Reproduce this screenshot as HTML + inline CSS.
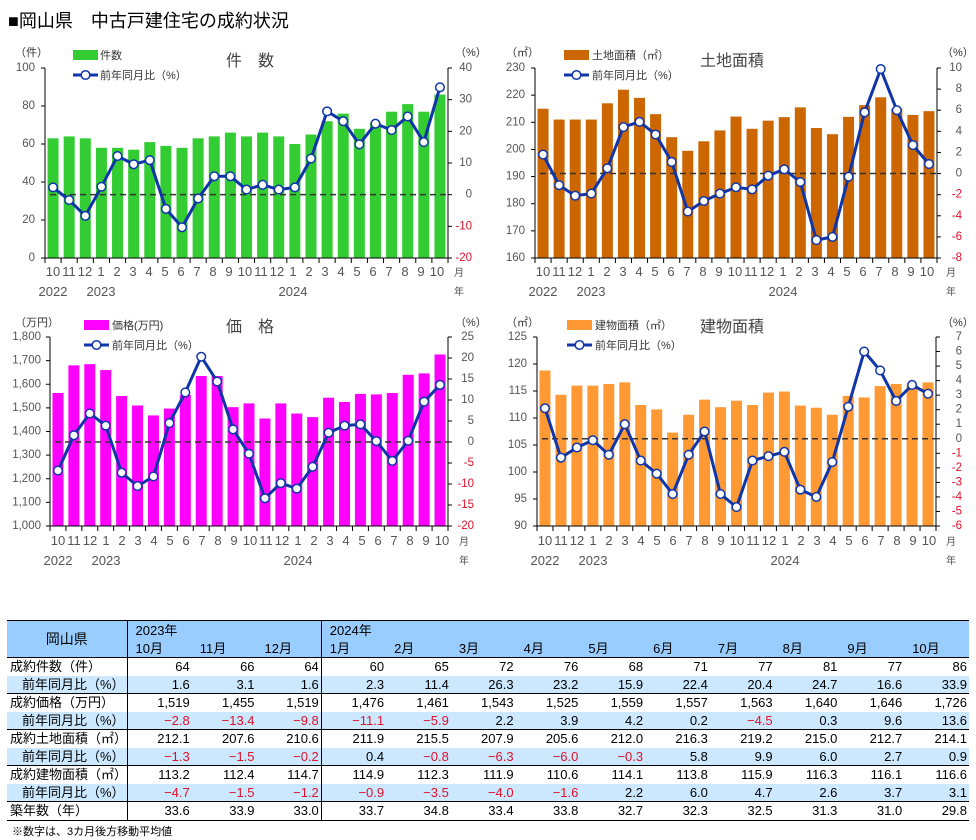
<!DOCTYPE html>
<html><head><meta charset="utf-8">
<style>
body{margin:0;background:#fff;width:976px;height:840px;position:relative;overflow:hidden;font-family:"Liberation Sans","Noto Sans CJK JP",sans-serif}
svg text{font-family:"Liberation Sans","Noto Sans CJK JP",sans-serif}
#h{position:absolute;left:8px;top:7px;font-size:18px;color:#000}
table{position:absolute;left:7px;top:620px;border-collapse:collapse;font-size:13px;table-layout:fixed;width:962px}
td{height:17.5px;padding:0 2px;text-align:right;line-height:17px;white-space:nowrap}
tr.a td{background:#cce8ff}
td.l{text-align:left;padding-left:3px;background:#fff;border-right:1.5px solid #000}
tr.a td.l{background:#cce8ff;text-align:right;padding-right:2px}
tr.g td{border-top:1.5px solid #000}
.n{color:#e0102a}
th{background:#99ccff;font-weight:normal;height:18px;padding:0 0 0 8px;text-align:left;line-height:17px}
.note{position:absolute;left:12px;top:823px;font-size:11px}
</style></head><body>
<div id="h">■岡山県　中古戸建住宅の成約状況</div>
<svg id="s" width="976" height="600" style="position:absolute;left:0;top:0" font-size="12">
<g id="bars"></g>
<g fill="#333">
<text x="15" y="56" font-size="11">（件）</text><text x="455" y="56" font-size="11">（%）</text>
<text x="226" y="66" font-size="16" fill="#444">件　数</text>
<text x="100" y="59" font-size="11">件数</text><text x="100" y="79" font-size="11">前年同月比（%）</text>
<text x="15" y="326" font-size="11">（万円）</text><text x="455" y="326" font-size="11">（%）</text>
<text x="226" y="332" font-size="16" fill="#444">価　格</text>
<text x="112" y="329" font-size="11">価格(万円)</text><text x="112" y="349" font-size="11">前年同月比（%）</text>
<text x="506" y="56" font-size="11">（㎡）</text><text x="942" y="56" font-size="11">（%）</text>
<text x="700" y="66" font-size="16" fill="#444">土地面積</text>
<text x="592" y="59" font-size="11">土地面積（㎡）</text><text x="592" y="79" font-size="11">前年同月比（%）</text>
<text x="506" y="326" font-size="11">（㎡）</text><text x="942" y="326" font-size="11">（%）</text>
<text x="700" y="332" font-size="16" fill="#444">建物面積</text>
<text x="595" y="329" font-size="11">建物面積（㎡）</text><text x="595" y="349" font-size="11">前年同月比（%）</text>
</g>
<g fill="#555" font-size="11.5" text-anchor="end" dominant-baseline="central">
<text x="35" y="258">0</text><text x="35" y="220">20</text><text x="35" y="182">40</text><text x="35" y="144">60</text><text x="35" y="106">80</text><text x="35" y="68">100</text>
<text x="472" y="258" fill="#e0102a">-20</text><text x="472" y="226.3" fill="#e0102a">-10</text><text x="472" y="194.7">0</text><text x="472" y="163">10</text><text x="472" y="131.3">20</text><text x="472" y="99.7">30</text><text x="472" y="68">40</text>
<text x="525" y="258">160</text><text x="525" y="230.9">170</text><text x="525" y="203.7">180</text><text x="525" y="176.6">190</text><text x="525" y="149.4">200</text><text x="525" y="122.3">210</text><text x="525" y="95.1">220</text><text x="525" y="68">230</text>
<text x="962" y="258" fill="#e0102a">-8</text><text x="962" y="236.9" fill="#e0102a">-6</text><text x="962" y="215.8" fill="#e0102a">-4</text><text x="962" y="194.7" fill="#e0102a">-2</text><text x="962" y="173.6">0</text><text x="962" y="152.4">2</text><text x="962" y="131.3">4</text><text x="962" y="110.2">6</text><text x="962" y="89.1">8</text><text x="962" y="68">10</text>
<text x="41" y="526">1,000</text><text x="41" y="502.4">1,100</text><text x="41" y="478.75">1,200</text><text x="41" y="455.1">1,300</text><text x="41" y="431.5">1,400</text><text x="41" y="407.9">1,500</text><text x="41" y="384.25">1,600</text><text x="41" y="360.6">1,700</text><text x="41" y="337">1,800</text>
<text x="474" y="526" fill="#e0102a">-20</text><text x="474" y="505" fill="#e0102a">-15</text><text x="474" y="484" fill="#e0102a">-10</text><text x="474" y="463" fill="#e0102a">-5</text><text x="474" y="442">0</text><text x="474" y="421">5</text><text x="474" y="400">10</text><text x="474" y="379">15</text><text x="474" y="358">20</text><text x="474" y="337">25</text>
<text x="527" y="526">90</text><text x="527" y="499">95</text><text x="527" y="472">100</text><text x="527" y="445">105</text><text x="527" y="418">110</text><text x="527" y="391">115</text><text x="527" y="364">120</text><text x="527" y="337">125</text>
<text x="962" y="526" fill="#e0102a">-6</text><text x="962" y="511.5" fill="#e0102a">-5</text><text x="962" y="496.9" fill="#e0102a">-4</text><text x="962" y="482.4" fill="#e0102a">-3</text><text x="962" y="467.8" fill="#e0102a">-2</text><text x="962" y="453.3" fill="#e0102a">-1</text><text x="962" y="438.8">0</text><text x="962" y="424.2">1</text><text x="962" y="409.7">2</text><text x="962" y="395.2">3</text><text x="962" y="380.6">4</text><text x="962" y="366.1">5</text><text x="962" y="351.5">6</text><text x="962" y="337">7</text>
</g>
<g fill="#555" font-size="13" text-anchor="middle">
<g transform="translate(45,276)"><text x="8">10</text><text x="24">11</text><text x="40">12</text><text x="56">1</text><text x="72">2</text><text x="88">3</text><text x="104">4</text><text x="120">5</text><text x="136">6</text><text x="152">7</text><text x="168">8</text><text x="184">9</text><text x="200">10</text><text x="216">11</text><text x="232">12</text><text x="248">1</text><text x="264">2</text><text x="280">3</text><text x="296">4</text><text x="312">5</text><text x="328">6</text><text x="344">7</text><text x="360">8</text><text x="376">9</text><text x="392">10</text><text x="414" font-size="10">月</text>
<text x="8" y="20">2022</text><text x="56" y="20">2023</text><text x="248" y="20">2024</text><text x="414" y="19" font-size="10">年</text></g>
<g transform="translate(535,276)"><text x="8">10</text><text x="24">11</text><text x="40">12</text><text x="56">1</text><text x="72">2</text><text x="88">3</text><text x="104">4</text><text x="120">5</text><text x="136">6</text><text x="152">7</text><text x="168">8</text><text x="184">9</text><text x="200">10</text><text x="216">11</text><text x="232">12</text><text x="248">1</text><text x="264">2</text><text x="280">3</text><text x="296">4</text><text x="312">5</text><text x="328">6</text><text x="344">7</text><text x="360">8</text><text x="376">9</text><text x="392">10</text><text x="416" font-size="10">月</text>
<text x="8" y="20">2022</text><text x="56" y="20">2023</text><text x="248" y="20">2024</text><text x="416" y="19" font-size="10">年</text></g>
<g transform="translate(50,545)"><text x="8">10</text><text x="24">11</text><text x="40">12</text><text x="56">1</text><text x="72">2</text><text x="88">3</text><text x="104">4</text><text x="120">5</text><text x="136">6</text><text x="152">7</text><text x="168">8</text><text x="184">9</text><text x="200">10</text><text x="216">11</text><text x="232">12</text><text x="248">1</text><text x="264">2</text><text x="280">3</text><text x="296">4</text><text x="312">5</text><text x="328">6</text><text x="344">7</text><text x="360">8</text><text x="376">9</text><text x="392">10</text><text x="414" font-size="10">月</text>
<text x="8" y="20">2022</text><text x="56" y="20">2023</text><text x="248" y="20">2024</text><text x="414" y="19" font-size="10">年</text></g>
<g transform="translate(537,545)"><text x="8">10</text><text x="24">11</text><text x="40">12</text><text x="56">1</text><text x="72">2</text><text x="88">3</text><text x="104">4</text><text x="120">5</text><text x="136">6</text><text x="152">7</text><text x="168">8</text><text x="184">9</text><text x="200">10</text><text x="216">11</text><text x="232">12</text><text x="248">1</text><text x="264">2</text><text x="280">3</text><text x="296">4</text><text x="312">5</text><text x="328">6</text><text x="344">7</text><text x="360">8</text><text x="376">9</text><text x="392">10</text><text x="414" font-size="10">月</text>
<text x="8" y="20">2022</text><text x="56" y="20">2023</text><text x="248" y="20">2024</text><text x="414" y="19" font-size="10">年</text></g>
</g>
</svg>
<table>
<colgroup><col style="width:120px"><col span="13"></colgroup>
<tr><th rowspan="2" style="text-align:center;padding:0;border-right:1.5px solid #000;border-top:1.5px solid #000;font-size:14px">岡山県</th><th colspan="3" style="border-right:1.5px solid #000;border-top:1.5px solid #000">2023年</th><th colspan="10" style="border-top:1.5px solid #000">2024年</th></tr>
<tr><th>10月</th><th>11月</th><th style="border-right:1.5px solid #000">12月</th><th>1月</th><th>2月</th><th>3月</th><th>4月</th><th>5月</th><th>6月</th><th>7月</th><th>8月</th><th>9月</th><th>10月</th></tr>
<tr class="g"><td class="l">成約件数（件）</td><td>64</td><td>66</td><td style="border-right:1.5px solid #000">64</td><td>60</td><td>65</td><td>72</td><td>76</td><td>68</td><td>71</td><td>77</td><td>81</td><td>77</td><td>86</td></tr>
<tr class="a"><td class="l">前年同月比（%）</td><td>1.6</td><td>3.1</td><td style="border-right:1.5px solid #000">1.6</td><td>2.3</td><td>11.4</td><td>26.3</td><td>23.2</td><td>15.9</td><td>22.4</td><td>20.4</td><td>24.7</td><td>16.6</td><td>33.9</td></tr>
<tr class="g"><td class="l">成約価格（万円）</td><td>1,519</td><td>1,455</td><td style="border-right:1.5px solid #000">1,519</td><td>1,476</td><td>1,461</td><td>1,543</td><td>1,525</td><td>1,559</td><td>1,557</td><td>1,563</td><td>1,640</td><td>1,646</td><td>1,726</td></tr>
<tr class="a"><td class="l">前年同月比（%）</td><td class="n">−2.8</td><td class="n">−13.4</td><td class="n" style="border-right:1.5px solid #000">−9.8</td><td class="n">−11.1</td><td class="n">−5.9</td><td>2.2</td><td>3.9</td><td>4.2</td><td>0.2</td><td class="n">−4.5</td><td>0.3</td><td>9.6</td><td>13.6</td></tr>
<tr class="g"><td class="l">成約土地面積（㎡）</td><td>212.1</td><td>207.6</td><td style="border-right:1.5px solid #000">210.6</td><td>211.9</td><td>215.5</td><td>207.9</td><td>205.6</td><td>212.0</td><td>216.3</td><td>219.2</td><td>215.0</td><td>212.7</td><td>214.1</td></tr>
<tr class="a"><td class="l">前年同月比（%）</td><td class="n">−1.3</td><td class="n">−1.5</td><td class="n" style="border-right:1.5px solid #000">−0.2</td><td>0.4</td><td class="n">−0.8</td><td class="n">−6.3</td><td class="n">−6.0</td><td class="n">−0.3</td><td>5.8</td><td>9.9</td><td>6.0</td><td>2.7</td><td>0.9</td></tr>
<tr class="g"><td class="l">成約建物面積（㎡）</td><td>113.2</td><td>112.4</td><td style="border-right:1.5px solid #000">114.7</td><td>114.9</td><td>112.3</td><td>111.9</td><td>110.6</td><td>114.1</td><td>113.8</td><td>115.9</td><td>116.3</td><td>116.1</td><td>116.6</td></tr>
<tr class="a"><td class="l">前年同月比（%）</td><td class="n">−4.7</td><td class="n">−1.5</td><td class="n" style="border-right:1.5px solid #000">−1.2</td><td class="n">−0.9</td><td class="n">−3.5</td><td class="n">−4.0</td><td class="n">−1.6</td><td>2.2</td><td>6.0</td><td>4.7</td><td>2.6</td><td>3.7</td><td>3.1</td></tr>
<tr class="g" style="border-bottom:1.5px solid #000"><td class="l">築年数（年）</td><td>33.6</td><td>33.9</td><td style="border-right:1.5px solid #000">33.0</td><td>33.7</td><td>34.8</td><td>33.4</td><td>33.8</td><td>32.7</td><td>32.3</td><td>32.5</td><td>31.3</td><td>31.0</td><td>29.8</td></tr>
</table>
<div class="note">※数字は、3カ月後方移動平均値</div>
<script>
var NS="http://www.w3.org/2000/svg",G=document.getElementById("bars");
function el(t,a){var e=document.createElementNS(NS,t);for(var k in a)e.setAttribute(k,a[k]);G.appendChild(e);return e;}
function chart(c){
 var step=(c.x1-c.x0)/25;
 function yl(v){return c.y1-(v-c.lmin)/(c.lmax-c.lmin)*(c.y1-c.y0);}
 function yr(v){return c.y1-(v-c.rmin)/(c.rmax-c.rmin)*(c.y1-c.y0);}
 c.bars.forEach(function(v,i){var cx=c.x0+(i+.5)*step;el("rect",{x:cx-5.5,y:yl(v),width:11,height:c.y1-yl(v),fill:c.col});});
 el("line",{x1:c.x0,y1:c.y0,x2:c.x0,y2:c.y1,stroke:"#000","stroke-width":1});
 el("line",{x1:c.x1,y1:c.y0,x2:c.x1,y2:c.y1,stroke:"#000","stroke-width":1});
 el("line",{x1:c.x0,y1:c.y1,x2:c.x1,y2:c.y1,stroke:"#000","stroke-width":1});
 for(var i=0;i<=25;i++){var x=c.x0+i*step;el("line",{x1:x,y1:c.y1,x2:x,y2:c.y1+5,stroke:"#000"});}
 for(var i=0;i<c.ln;i++){var y=c.y0+i*(c.y1-c.y0)/(c.ln-1);el("line",{x1:c.x0-4,y1:y,x2:c.x0,y2:y,stroke:"#000"});}
 for(var i=0;i<c.rn;i++){var y=c.y0+i*(c.y1-c.y0)/(c.rn-1);el("line",{x1:c.x1,y1:y,x2:c.x1+4,y2:y,stroke:"#000"});}
 el("line",{x1:c.x0+5,y1:yr(0),x2:c.x1,y2:yr(0),stroke:"#333","stroke-width":1.5,"stroke-dasharray":"6,4"});
 var p=c.line.map(function(v,i){return (c.x0+(i+.5)*step).toFixed(1)+","+yr(v).toFixed(1);}).join(" ");
 el("polyline",{points:p,fill:"none",stroke:"#1035a8","stroke-width":3,"stroke-linejoin":"round"});
 c.line.forEach(function(v,i){el("circle",{cx:c.x0+(i+.5)*step,cy:yr(v),r:4.3,fill:"#fff",stroke:"#1035a8","stroke-width":1.5});});
 el("rect",{x:c.lx,y:c.ly-5,width:25,height:10,fill:c.col});
 el("line",{x1:c.lx,y1:c.ly+20,x2:c.lx+25,y2:c.ly+20,stroke:"#1035a8","stroke-width":3});
 el("circle",{cx:c.lx+12.5,cy:c.ly+20,r:4.3,fill:"#fff",stroke:"#1035a8","stroke-width":1.5});
}
chart({x0:45,x1:448,y0:68,y1:258,lmin:0,lmax:100,rmin:-20,rmax:40,ln:6,rn:7,col:"#33cc33",lx:73,ly:55,
 bars:[63,64,63,58,58,57,61,59,58,63,64,66,64,66,64,60,65,72,76,68,71,77,81,77,86],
 line:[2.3,-1.7,-6.7,2.5,12.2,9.6,10.9,-4.5,-10.3,-1.2,5.8,5.8,1.6,3.1,1.6,2.3,11.4,26.3,23.2,15.9,22.4,20.4,24.7,16.6,33.9]});
chart({x0:535,x1:937,y0:68,y1:258,lmin:160,lmax:230,rmin:-8,rmax:10,ln:8,rn:10,col:"#cc6600",lx:564,ly:55,
 bars:[215,211,211,211,217,222,219,213,204.5,199.5,203,207,212.1,207.6,210.6,211.9,215.5,207.9,205.6,212,216.3,219.2,215,212.7,214.1],
 line:[1.8,-1.1,-2.1,-1.9,0.5,4.4,4.9,3.7,1.1,-3.6,-2.6,-1.9,-1.3,-1.5,-0.2,0.4,-0.8,-6.3,-6.0,-0.3,5.8,9.9,6.0,2.7,0.9]});
chart({x0:50,x1:448,y0:337,y1:526,lmin:1000,lmax:1800,rmin:-20,rmax:25,ln:9,rn:10,col:"#ff00ff",lx:84,ly:325,
 bars:[1563,1680,1685,1660,1550,1510,1468,1497,1555,1635,1635,1503,1519,1455,1519,1476,1461,1543,1525,1559,1557,1563,1640,1646,1726],
 line:[-6.8,1.6,6.8,3.9,-7.3,-10.5,-8.2,4.5,11.8,20.3,14.4,3.0,-2.8,-13.4,-9.8,-11.1,-5.9,2.2,3.9,4.2,0.2,-4.5,0.3,9.6,13.6]});
chart({x0:537,x1:936,y0:337,y1:526,lmin:90,lmax:125,rmin:-6,rmax:7,ln:8,rn:14,col:"#ff9933",lx:567,ly:325,
 bars:[118.8,114.3,116,116,116.3,116.6,112.4,111.6,107.3,110.6,113.4,112,113.2,112.4,114.7,114.9,112.3,111.9,110.6,114.1,113.8,115.9,116.3,116.1,116.6],
 line:[2.1,-1.3,-0.6,-0.1,-1.1,1.0,-1.5,-2.4,-3.8,-1.1,0.5,-3.8,-4.7,-1.5,-1.2,-0.9,-3.5,-4.0,-1.6,2.2,6.0,4.7,2.6,3.7,3.1]});
</script>
</body></html>
